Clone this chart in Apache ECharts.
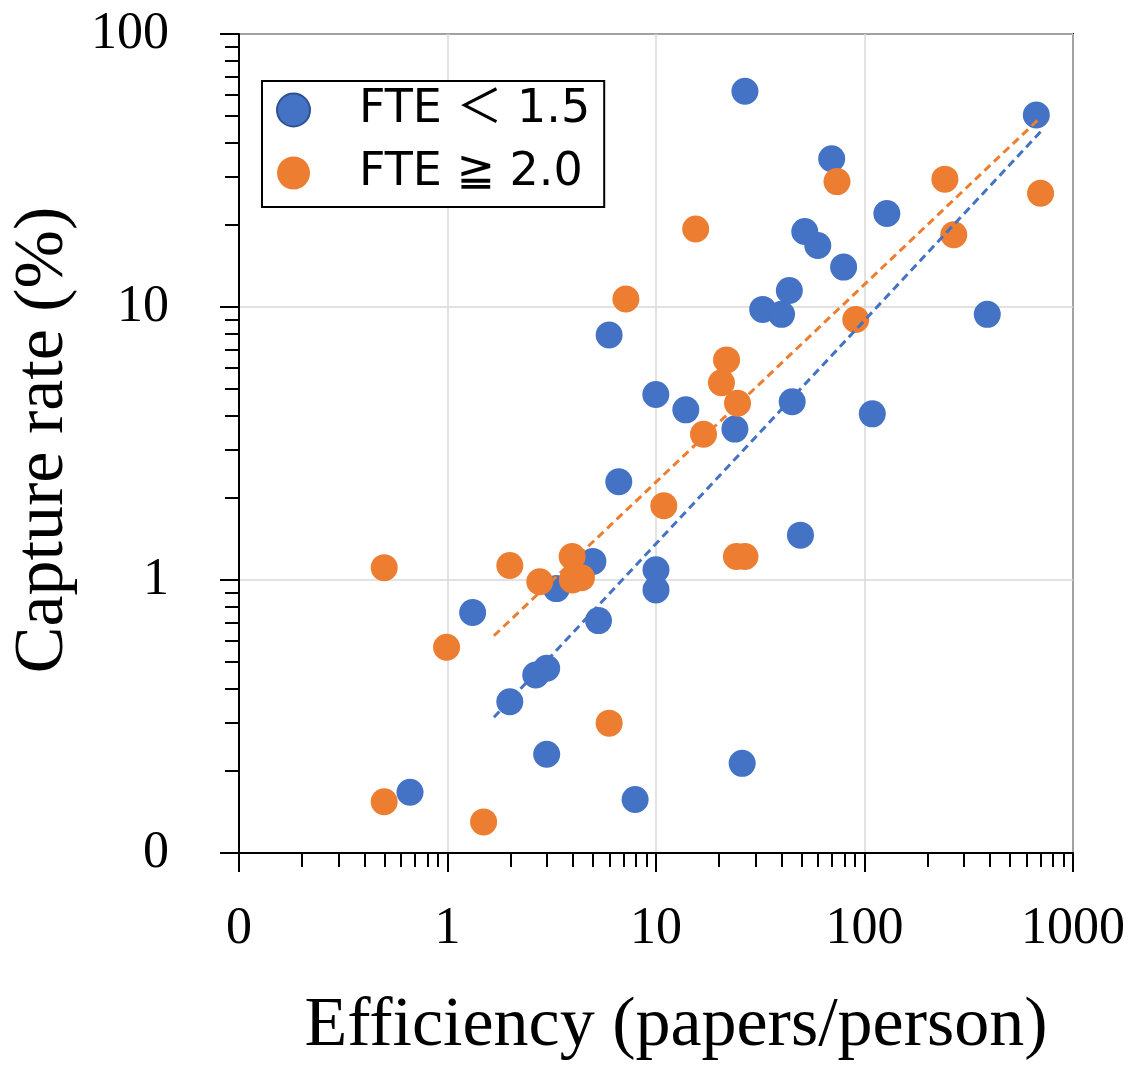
<!DOCTYPE html>
<html>
<head>
<meta charset="utf-8">
<script src="https://cdn.jsdelivr.net/npm/echarts@6/dist/echarts.min.js"></script>
<style>
  html, body { margin: 0; padding: 0; background: #fff; }
  #chart { width: 1133px; height: 1072px; }
</style>
</head>
<body>
<div id="chart"></div>
<script>
// FTE < 1.5 group: [efficiency, capture rate]
const puntosBajos = [
    [26.7, 61.7], [667, 50.5], [69.6, 34.9], [128, 22.0], [51.7, 18.9],
    [59.7, 16.8], [79.4, 14.0], [43.6, 11.5], [32.5, 9.8], [40.0, 9.4],
    [388, 9.4], [5.96, 7.9], [9.98, 4.78], [13.9, 4.2], [45.0, 4.5],
    [109, 4.06], [23.9, 3.57], [6.63, 2.29], [49.3, 1.46], [4.98, 1.17],
    [10, 1.09], [10, 0.92], [3.33, 0.93], [1.32, 0.76], [5.30, 0.71],
    [2.99, 0.475], [2.65, 0.449], [1.99, 0.358], [2.99, 0.23], [0.661, 0.167],
    [7.94, 0.157], [25.9, 0.213]
];

// FTE >= 2.0 group
const puntosAltos = [
    [73.8, 28.8], [243, 29.4], [699, 26.1], [15.5, 19.3], [268, 18.4],
    [7.17, 10.7], [90.8, 9.0], [21.8, 6.4], [20.6, 5.28], [24.6, 4.44],
    [16.9, 3.42], [10.9, 1.87], [24.3, 1.22], [26.7, 1.22], [3.96, 1.22],
    [3.97, 1.0], [4.39, 1.02], [2.77, 0.986], [1.99, 1.13], [0.497, 1.11],
    [0.99, 0.567], [5.96, 0.299], [0.497, 0.154], [1.49, 0.130]
];

// trend lines (end points)
const tendenciaX = [1.67, 700];
const tendenciaBajos = [0.314, 43.9];
const tendenciaAltos = [0.625, 49.5];

const nombres = ["FTE ＜ 1.5", "FTE ≧ 2.0"];
const tituloX = "Efficiency (papers/person)";
const tituloY = "Capture rate (%)";

const decadasX = [0.1, 1, 10, 100];
const decadasY = [0.1, 1, 10];
const multiplos = [2, 3, 4, 5, 6, 7, 8, 9];

function ticksMenores(decadas) {
    const lista = [];
    decadas.forEach(function(d) {
        multiplos.forEach(function(m) { lista.push(d * m); });
    });
    return lista;
}

function etiqueta(v) {
    return v < 1 ? "0" : String(Math.round(v));
}

const serif = "'Liberation Serif', 'DejaVu Serif', serif";
const negro = { color: "#000", width: 2 };

function ejeMayor(tipo, max) {
    return {
        type: "log", logBase: 10, min: 0.1, max: max,
        position: tipo === "x" ? "bottom" : "left",
        axisLine: { show: true, lineStyle: negro },
        axisTick: { show: true, inside: false, length: 19, lineStyle: negro },
        axisLabel: {
            margin: tipo === "x" ? 50 : 70,
            fontSize: 52, fontFamily: serif, color: "#000",
            formatter: etiqueta
        },
        splitLine: { show: true, lineStyle: { color: "#D9D9D9", width: 1.5 } }
    };
}

function ejeMenor(tipo, max, valores) {
    return {
        type: "log", logBase: 10, min: 0.1, max: max,
        position: tipo === "x" ? "bottom" : "left",
        axisLine: { show: false },
        axisTick: { show: true, inside: false, length: 14, lineStyle: negro, customValues: valores },
        axisLabel: { show: false },
        splitLine: { show: false }
    };
}

function lineaTendencia(ys, color) {
    return {
        name: "trend",
        type: "line",
        data: tendenciaX.map(function(x, i) { return [x, ys[i]]; }),
        symbol: "none",
        silent: true,
        z: 5,
        lineStyle: { color: color, width: 3, type: [8, 5] }
    };
}

const grafico = echarts.init(document.getElementById("chart"));
grafico.setOption({
    animation: false,
    backgroundColor: "#fff",
    grid: {
        left: 239, top: 34, right: 60, bottom: 219,
        show: true, borderColor: "#000", borderWidth: 2
    },
    legend: {
        left: 262, top: 81,
        orient: "vertical", align: "left",
        padding: [6, 14, 11, 14],
        itemWidth: 33, itemHeight: 33, itemGap: 17,
        borderColor: "#000", borderWidth: 2, backgroundColor: "#fff",
        textStyle: {
            fontSize: 46, lineHeight: 46, color: "#000",
            padding: [0, 0, 0, 44],
            fontFamily: "'DejaVu Sans', 'Noto Sans CJK JP', sans-serif"
        },
        data: [
            { name: nombres[0], icon: "circle", itemStyle: { borderColor: "#2F528F", borderWidth: 2 } },
            { name: nombres[1], icon: "circle" }
        ]
    },
    xAxis: [ejeMayor("x", 1000), ejeMenor("x", 1000, ticksMenores(decadasX))],
    yAxis: [ejeMayor("y", 100), ejeMenor("y", 100, ticksMenores(decadasY))],
    series: [
        {
            name: nombres[0], type: "scatter", data: puntosBajos,
            symbolSize: 27, itemStyle: { color: "#4472C4", opacity: 1 }
        },
        {
            name: nombres[1], type: "scatter", data: puntosAltos,
            symbolSize: 27, itemStyle: { color: "#ED7D31", opacity: 1 }
        },
        lineaTendencia(tendenciaBajos, "#4472C4"),
        lineaTendencia(tendenciaAltos, "#ED7D31")
    ],
    graphic: [
        {
            type: "text", x: 676, y: 1027,
            style: { text: tituloX, font: "70px " + serif, fill: "#000", textAlign: "center", textVerticalAlign: "middle" }
        },
        {
            type: "text", x: 44, y: 440, rotation: Math.PI / 2,
            style: { text: tituloY, font: "70px " + serif, fill: "#000", textAlign: "center", textVerticalAlign: "middle" }
        }
    ]
});
</script>
</body>
</html>
